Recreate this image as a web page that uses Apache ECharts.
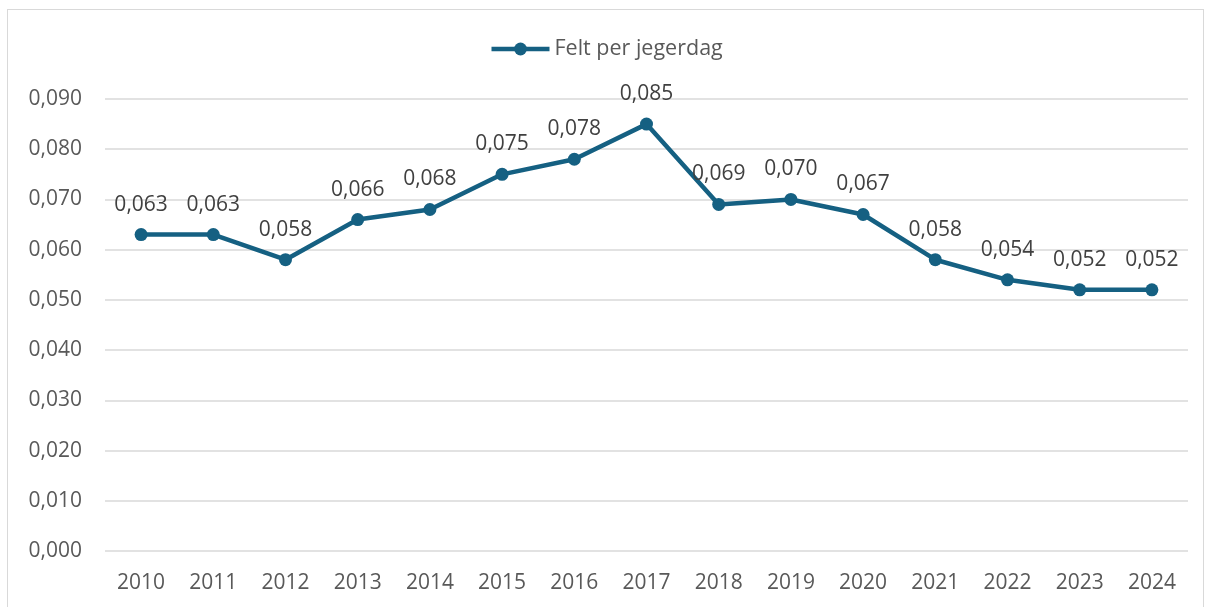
<!DOCTYPE html>
<html>
<head>
<meta charset="utf-8">
<script src="https://cdn.jsdelivr.net/npm/echarts@6/dist/echarts.min.js"></script>
<style>
	html, body { margin: 0; padding: 0; background: #fff; }
	#frame { position: absolute; left: 7px; top: 9px; width: 1197px; height: 620px; border: 1px solid #d9d9d9; box-sizing: border-box; }
	#chart { position: absolute; left: 0; top: 0; width: 1212px; height: 607px; }
</style>
</head>
<body>
<div id="frame"></div>
<div id="chart"></div>
<script>
var years = ["2010", "2011", "2012", "2013", "2014", "2015", "2016", "2017", "2018", "2019", "2020", "2021", "2022", "2023", "2024"];
var feltPerJegerdag = [0.063, 0.063, 0.058, 0.066, 0.068, 0.075, 0.078, 0.085, 0.069, 0.070, 0.067, 0.058, 0.054, 0.052, 0.052];
var seriesName = "Felt per jegerdag";

function fmt(v) {
	return Number(v).toFixed(3).replace(".", ",");
}

var myChart = echarts.init(document.getElementById("chart"));
var option = {
	animation: false,
	textStyle: { fontFamily: "Open Sans" },
	legend: {
		top: 33,
		left: "center",
		itemWidth: 58,
		itemHeight: 16,
		itemGap: 8,
		data: [seriesName],
		lineStyle: { width: 4.5 },
		textStyle: { fontSize: 21.5, color: "#595959", fontFamily: "Open Sans" },
	},
	grid: {
		left: 105,
		right: 24,
		top: 99,
		bottom: 56,
	},
	xAxis: {
		type: "category",
		data: years,
		boundaryGap: true,
		axisLine: { show: false },
		axisTick: { show: false },
		axisLabel: { fontSize: 21, color: "#595959", margin: 22 },
	},
	yAxis: {
		type: "value",
		min: 0,
		max: 0.09,
		interval: 0.01,
		axisLabel: { fontSize: 21, color: "#595959", margin: 23, formatter: fmt },
		splitLine: { lineStyle: { color: "#d9d9d9", width: 1.5 } },
	},
	series: [
		{
			name: seriesName,
			type: "line",
			data: feltPerJegerdag,
			symbol: "circle",
			symbolSize: 13,
			itemStyle: { color: "#156082" },
			lineStyle: { color: "#156082", width: 4.5 },
			label: {
				show: true,
				position: "top",
				distance: 13,
				fontSize: 21,
				color: "#404040",
				formatter: function (p) { return fmt(p.value); },
			},
		},
	],
};
myChart.setOption(option);
</script>
</body>
</html>
